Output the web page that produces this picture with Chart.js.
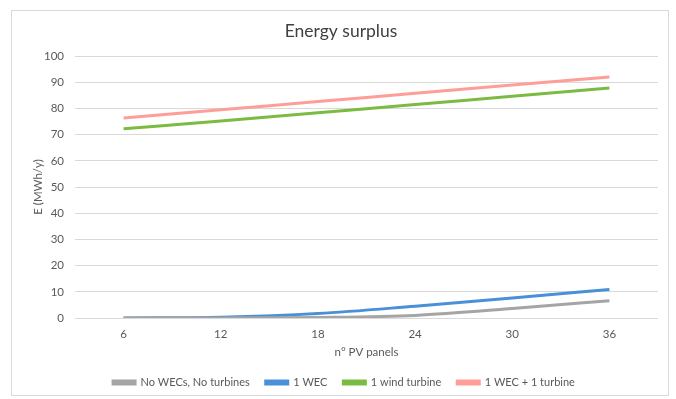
<!DOCTYPE html>
<html><head><meta charset="utf-8">
<script src="https://cdn.jsdelivr.net/npm/chart.js@4.4.1/dist/chart.umd.min.js"></script>
<style>
html,body{margin:0;padding:0;background:#fff;}
#box{position:absolute;left:11px;top:10px;width:656px;height:384px;border:1px solid #d9d9d9;background:#fff;}
canvas{display:block;}
</style></head><body>
<div id="box"><canvas id="c" width="656" height="384"></canvas></div>
<script>
const categories = ['6','12','18','24','30','36'];
const noWecNoTurbine = [0, 0, 0.2, 1.0, 3.6, 6.6];
const oneWec = [0, 0.3, 1.7, 4.5, 7.6, 10.9];
const oneWindTurbine = [72.2, 75.2, 78.3, 81.5, 84.6, 87.8];
const wecPlusTurbine = [76.3, 79.5, 82.6, 85.8, 88.9, 92.0];
const seriesNames = ['No WECs, No turbines', '1 WEC', '1 wind turbine', '1 WEC + 1 turbine'];
const colors = ['#A5A5A5', '#4A90D9', '#7CBB42', '#FF9E98'];
const values = [noWecNoTurbine, oneWec, oneWindTurbine, wecPlusTurbine];

const FONT = 'Lato, "Liberation Sans", sans-serif';
const TXT = '#595959';

// shift legend / title drawing slightly to match the reference's offsets
const shiftPlugin = {
  id: 'shift',
  beforeDraw(chart) {
    const wrap = (box, dx) => {
      if (!box || box._wrapped) return;
      const orig = box.draw.bind(box);
      box.draw = function (area) {
        const ctx = chart.ctx;
        ctx.save(); ctx.translate(dx, 0); orig(area); ctx.restore();
      };
      box._wrapped = true;
    };
    wrap(chart.legend, 9);
    wrap(chart.titleBlock, 6);
  }
};

new Chart(document.getElementById('c'), {
  type: 'line',
  data: {
    labels: categories,
    datasets: values.map((v, i) => ({
      label: seriesNames[i],
      data: v,
      borderColor: colors[i],
      backgroundColor: colors[i],
      borderWidth: 3,
      pointRadius: 0,
      cubicInterpolationMode: 'monotone',
      fill: false
    }))
  },
  plugins: [shiftPlugin],
  options: {
    responsive: false,
    animation: false,
    layout: { padding: { left: 0, right: 10, top: 0, bottom: -3 } },
    plugins: {
      title: {
        display: true,
        text: 'Energy surplus',
        color: '#404040',
        font: { family: FONT, size: 17.5, weight: 'normal' },
        padding: { top: 10, bottom: 14 }
      },
      legend: {
        position: 'bottom',
        labels: {
          color: TXT,
          font: { family: FONT, size: 11 },
          boxWidth: 22,
          boxHeight: 3,
          padding: 16
        }
      },
      tooltip: { enabled: false }
    },
    scales: {
      x: {
        type: 'category',
        offset: true,
        grid: { display: false, drawTicks: false },
        border: { display: false },
        ticks: { color: TXT, font: { family: FONT, size: 11.5 }, padding: 9 },
        title: { display: true, text: 'n° PV panels', color: TXT, font: { family: FONT, size: 11.5 }, padding: { top: 4, bottom: 2 } },
        afterFit: s => { s.height = 43; }
      },
      y: {
        min: 0, max: 100,
        ticks: { stepSize: 10, color: TXT, font: { family: FONT, size: 11.5 }, padding: 11 },
        grid: { color: '#d9d9d9', lineWidth: 1, drawTicks: false },
        border: { display: false },
        title: { display: true, text: 'E (MWh/y)', color: TXT, font: { family: FONT, size: 11.5 }, padding: { top: 19, bottom: 6 } },
        afterFit: s => { s.width = 63; }
      }
    }
  }
});
</script>
</body></html>
